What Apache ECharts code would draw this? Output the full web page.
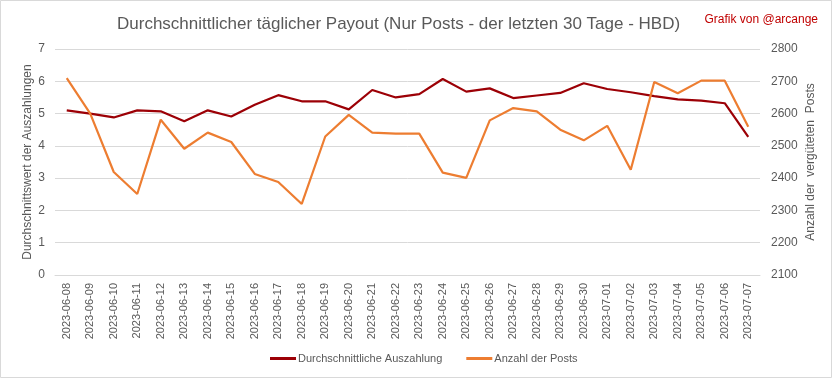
<!DOCTYPE html>
<html>
<head>
<meta charset="utf-8">
<script src="https://cdn.jsdelivr.net/npm/echarts@6/dist/echarts.min.js"></script>
<style>
html,body{margin:0;padding:0;background:#fff;}
#c{width:833px;height:379px;}
</style>
</head>
<body>
<div id="c"></div>
<script>
const categories = ["2023-06-08","2023-06-09","2023-06-10","2023-06-11","2023-06-12","2023-06-13","2023-06-14","2023-06-15","2023-06-16","2023-06-17","2023-06-18","2023-06-19","2023-06-20","2023-06-21","2023-06-22","2023-06-23","2023-06-24","2023-06-25","2023-06-26","2023-06-27","2023-06-28","2023-06-29","2023-06-30","2023-07-01","2023-07-02","2023-07-03","2023-07-04","2023-07-05","2023-07-06","2023-07-07"];
const avgPayout = [5.10,5.00,4.88,5.10,5.07,4.76,5.10,4.91,5.27,5.57,5.38,5.38,5.13,5.73,5.50,5.60,6.07,5.68,5.78,5.48,5.56,5.64,5.94,5.76,5.66,5.54,5.44,5.40,5.32,4.28];
const postCount = [2710,2600,2419,2351,2581,2491,2541,2512,2413,2388,2320,2529,2596,2541,2538,2538,2417,2401,2579,2617,2607,2550,2517,2562,2426,2698,2663,2702,2702,2559];
const leftTicks = {min:0,max:7,interval:1};
const rightTicks = {min:2100,max:2800,interval:100};

const chart = echarts.init(document.getElementById('c'), null, {renderer:'canvas'});
const font = "'Liberation Sans', Arial, sans-serif";
const grey = '#595959';
chart.setOption({
  backgroundColor:'#fff',
  animation:false,
  textStyle:{fontFamily:font},
  title:[{
    text:'Durchschnittlicher täglicher Payout (Nur Posts - der letzten 30 Tage - HBD)',
    left:112, top:11,
    textStyle:{fontFamily:font,fontSize:17,fontWeight:'normal',color:grey}
  },{
    text:'Grafik von @arcange',
    right:10, top:9,
    textStyle:{fontFamily:font,fontSize:12,fontWeight:'normal',color:'#C00000'}
  }],
  graphic:[{type:'rect',shape:{x:0.5,y:0.5,width:831,height:377},style:{fill:null,stroke:'#d9d9d9',lineWidth:1},silent:true}],
  legend:{
    bottom:10, left:265, itemWidth:26, itemHeight:3, itemGap:24,
    icon:'rect',
    textStyle:{fontFamily:font,fontSize:11,color:grey,padding:[0,0,0,-3]},
    data:['Durchschnittliche Auszahlung','Anzahl der Posts']
  },
  grid:{left:55,right:73,top:49,bottom:104},
  xAxis:{
    type:'category', data:categories, boundaryGap:true,
    axisLine:{lineStyle:{color:'#d9d9d9'}},
    axisTick:{show:false},
    axisLabel:{rotate:90,interval:0,color:grey,fontSize:11,margin:8,fontFamily:font}
  },
  yAxis:[{
    type:'value', min:leftTicks.min, max:leftTicks.max, interval:leftTicks.interval,
    name:'Durchschnittswert der Auszahlungen', nameLocation:'middle', nameGap:21, nameMoveOverlap:false,
    nameTextStyle:{color:grey,fontSize:12,fontFamily:font},
    axisLabel:{color:grey,fontSize:12,margin:10,fontFamily:font},
    splitLine:{lineStyle:{color:'#d9d9d9'}},
    axisLine:{show:false}, axisTick:{show:false}
  },{
    type:'value', min:rightTicks.min, max:rightTicks.max, interval:rightTicks.interval,
    name:'Anzahl der  vergüteten  Posts', nameLocation:'middle', nameGap:45, nameMoveOverlap:false,
    nameTextStyle:{color:grey,fontSize:12,fontFamily:font},
    axisLabel:{color:grey,fontSize:12,margin:11,fontFamily:font,formatter:function(v){return String(v);}},
    splitLine:{show:false},
    axisLine:{show:false}, axisTick:{show:false}
  }],
  series:[{
    name:'Durchschnittliche Auszahlung', type:'line', yAxisIndex:0, data:avgPayout,
    symbol:'none', lineStyle:{color:'#9C0006',width:2.2}, itemStyle:{color:'#9C0006'}
  },{
    name:'Anzahl der Posts', type:'line', yAxisIndex:1, data:postCount,
    symbol:'none', lineStyle:{color:'#ED7D31',width:2.2}, itemStyle:{color:'#ED7D31'}
  }]
});
</script>
</body>
</html>
